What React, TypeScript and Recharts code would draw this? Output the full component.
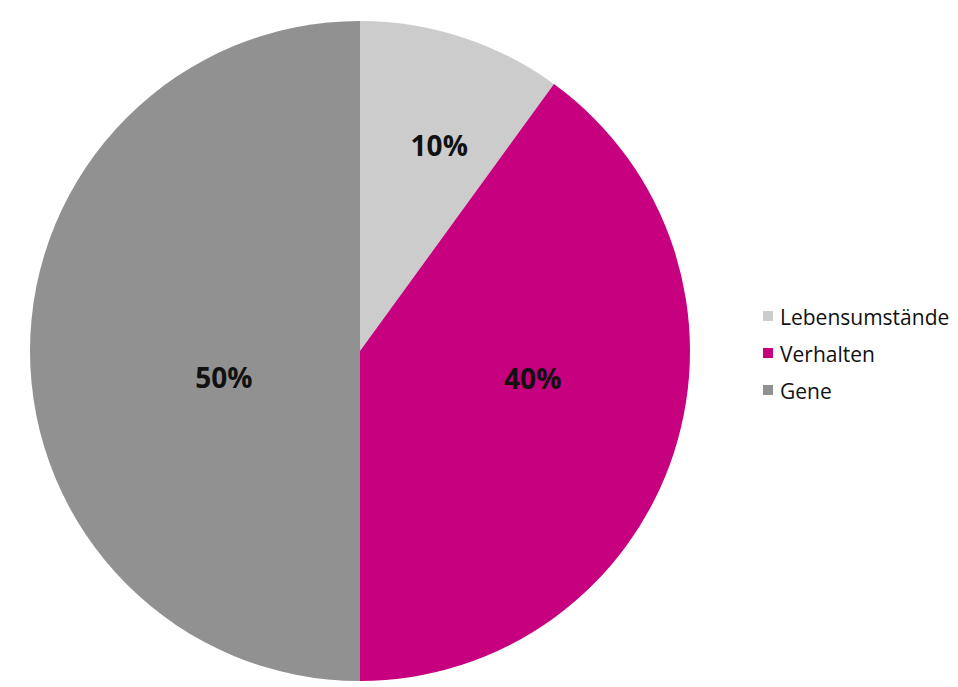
import { PieChart, Pie, Cell, Legend } from 'recharts';

const categories = ['Lebensumstände', 'Verhalten', 'Gene'];
const shares = [10, 40, 50];
const colors = ['#cccccc', '#c6007e', '#919191'];
// label placement per slice: fraction of radius and angle nudge (deg)
const labelRadius = [0.67, 0.53, 0.42];
const labelAngleShift = [-3, 9, 11];

const data = categories.map((name, i) => ({ name, value: shares[i] }));

const RADIAN = Math.PI / 180;

const renderLabel = (props: any) => {
  const { cx, cy, midAngle, outerRadius, index, value } = props;
  const r = outerRadius * labelRadius[index];
  const a = midAngle + labelAngleShift[index];
  const x = cx + r * Math.cos(-a * RADIAN);
  const y = cy + r * Math.sin(-a * RADIAN);
  return (
    <text
      x={x}
      y={y}
      textAnchor="middle"
      dominantBaseline="central"
      fill="#111"
      fontSize={28}
      fontWeight={700}
      fontFamily="'Open Sans', sans-serif"
    >
      {value}%
    </text>
  );
};

const renderLegend = () => (
  <div style={{ fontFamily: "'Open Sans', sans-serif", fontSize: 21, color: '#111' }}>
    {categories.map((c, i) => (
      <div key={c} style={{ display: 'flex', alignItems: 'flex-start', height: 37 }}>
        <span
          style={{
            display: 'inline-block',
            width: 10,
            height: 10,
            background: colors[i],
            marginTop: 6,
            marginRight: 7,
          }}
        />
        <span style={{ lineHeight: '24px' }}>{c}</span>
      </div>
    ))}
  </div>
);

export default function App() {
  return (
    <PieChart width={950} height={679}>
      <Pie
        data={data}
        dataKey="value"
        nameKey="name"
        cx={347}
        cy={338}
        outerRadius={330}
        startAngle={90}
        endAngle={-270}
        stroke="none"
        label={renderLabel}
        labelLine={false}
        isAnimationActive={false}
      >
        {data.map((d, i) => (
          <Cell key={d.name} fill={colors[i]} />
        ))}
      </Pie>
      <Legend
        content={renderLegend}
        wrapperStyle={{ left: 755, top: 297, width: 200 }}
      />
    </PieChart>
  );
}
